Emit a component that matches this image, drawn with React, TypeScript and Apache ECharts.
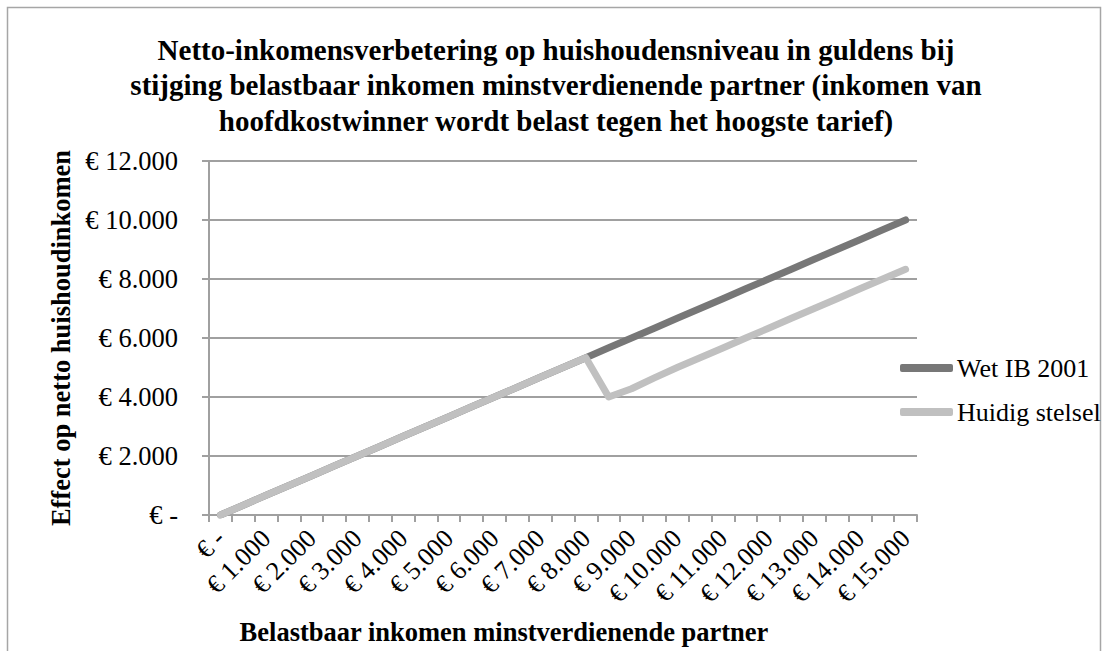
import React, { useEffect, useRef } from 'react';
import * as echarts from 'echarts';

const categories = [
  '€ -', '€ 500', '€ 1.000', '€ 1.500', '€ 2.000', '€ 2.500', '€ 3.000', '€ 3.500',
  '€ 4.000', '€ 4.500', '€ 5.000', '€ 5.500', '€ 6.000', '€ 6.500', '€ 7.000', '€ 7.500',
  '€ 8.000', '€ 8.500', '€ 9.000', '€ 9.500', '€ 10.000', '€ 10.500', '€ 11.000', '€ 11.500',
  '€ 12.000', '€ 12.500', '€ 13.000', '€ 13.500', '€ 14.000', '€ 14.500', '€ 15.000',
];

const wetIB2001 = [
  0, 333, 667, 1000, 1333, 1667, 2000, 2333, 2667, 3000, 3333, 3667, 4000, 4333, 4667, 5000,
  5333, 5667, 6000, 6333, 6667, 7000, 7333, 7667, 8000, 8333, 8667, 9000, 9333, 9667, 10000,
];

const huidigStelsel = [
  0, 333, 667, 1000, 1333, 1667, 2000, 2333, 2667, 3000, 3333, 3667, 4000, 4333, 4667, 5000,
  5333, 4000, 4280, 4650, 5000, 5330, 5660, 6000, 6330, 6670, 7000, 7330, 7670, 8000, 8330,
];

const yTickLabels = ['€ -', '€ 2.000', '€ 4.000', '€ 6.000', '€ 8.000', '€ 10.000', '€ 12.000'];

const FONT = '"Liberation Serif", "Times New Roman", serif';

export default function App() {
  const ref = useRef<HTMLDivElement>(null);

  useEffect(() => {
    const chart = echarts.init(ref.current!, null, { renderer: 'svg' });
    chart.setOption({
      animation: false,
      backgroundColor: '#ffffff',
      textStyle: { fontFamily: FONT },
      title: [
        {
          text: 'Netto-inkomensverbetering op huishoudensniveau in guldens bij\nstijging belastbaar inkomen minstverdienende partner (inkomen van\nhoofdkostwinner wordt belast tegen het hoogste tarief)',
          left: 556,
          textAlign: 'center',
          top: 32,
          padding: 0,
          textStyle: {
            fontFamily: FONT,
            fontWeight: 'bold',
            fontSize: 29,
            lineHeight: 35.5,
            color: '#000',
          },
        },
        {
          text: 'Belastbaar inkomen minstverdienende partner',
          left: 504,
          textAlign: 'center',
          top: 618,
          padding: 0,
          textStyle: {
            fontFamily: FONT,
            fontWeight: 'bold',
            fontSize: 26.5,
            color: '#000',
          },
        },
      ],
      graphic: [
        {
          type: 'rect',
          shape: { x: 7.5, y: 7.5, width: 1093, height: 700 },
          style: { fill: 'none', stroke: '#a6a6a6', lineWidth: 1.5 },
          silent: true,
        },
      ],
      legend: {
        orient: 'vertical',
        left: 900,
        top: 355,
        icon: 'roundRect',
        itemWidth: 53,
        itemHeight: 8,
        itemGap: 18,
        padding: 0,
        textStyle: { fontFamily: FONT, fontSize: 26, color: '#000', padding: [0, 0, 0, -1] },
        data: ['Wet IB 2001', 'Huidig stelsel'],
      },
      grid: { left: 209, right: 192, top: 161, bottom: 136, containLabel: false },
      xAxis: {
        type: 'category',
        data: categories,
        boundaryGap: true,
        axisLine: { lineStyle: { color: '#a0a0a0', width: 2 } },
        axisTick: { show: true, interval: 0, length: 7, lineStyle: { color: '#a0a0a0', width: 2 } },
        axisLabel: {
          interval: 1,
          rotate: 45,
          margin: 19,
          fontFamily: FONT,
          fontSize: 26,
          color: '#000',
        },
        splitLine: { show: false },
      },
      yAxis: {
        type: 'value',
        min: 0,
        max: 12000,
        interval: 2000,
        name: 'Effect op netto huishoudinkomen',
        nameLocation: 'middle',
        nameRotate: 90,
        nameGap: 134,
        nameTextStyle: { fontFamily: FONT, fontWeight: 'bold', fontSize: 26.5, color: '#000' },
        axisLine: { show: true, lineStyle: { color: '#a0a0a0', width: 2 } },
        axisTick: { show: true, length: 7, lineStyle: { color: '#a0a0a0', width: 2 } },
        axisLabel: {
          margin: 31,
          fontFamily: FONT,
          fontSize: 26.5,
          color: '#000',
          formatter: (v: number) => yTickLabels[Math.round(v / 2000)] ?? '',
        },
        splitLine: { show: true, lineStyle: { color: '#a0a0a0', width: 2 } },
      },
      series: [
        {
          name: 'Wet IB 2001',
          type: 'line',
          data: wetIB2001,
          showSymbol: false,
          symbol: 'none',
          color: '#777777',
          lineStyle: { color: '#777777', width: 7, cap: 'round', join: 'round' },
          z: 2,
        },
        {
          name: 'Huidig stelsel',
          type: 'line',
          data: huidigStelsel,
          showSymbol: false,
          symbol: 'none',
          color: '#c0c0c0',
          lineStyle: { color: '#c0c0c0', width: 7, cap: 'round', join: 'round' },
          z: 3,
        },
      ],
    });
    return () => chart.dispose();
  }, []);

  return (
    <div style={{ position: 'absolute', left: 0, top: 0, width: 1109, height: 651, background: '#fff' }}>
      <div ref={ref} style={{ width: 1109, height: 651 }} />
    </div>
  );
}
